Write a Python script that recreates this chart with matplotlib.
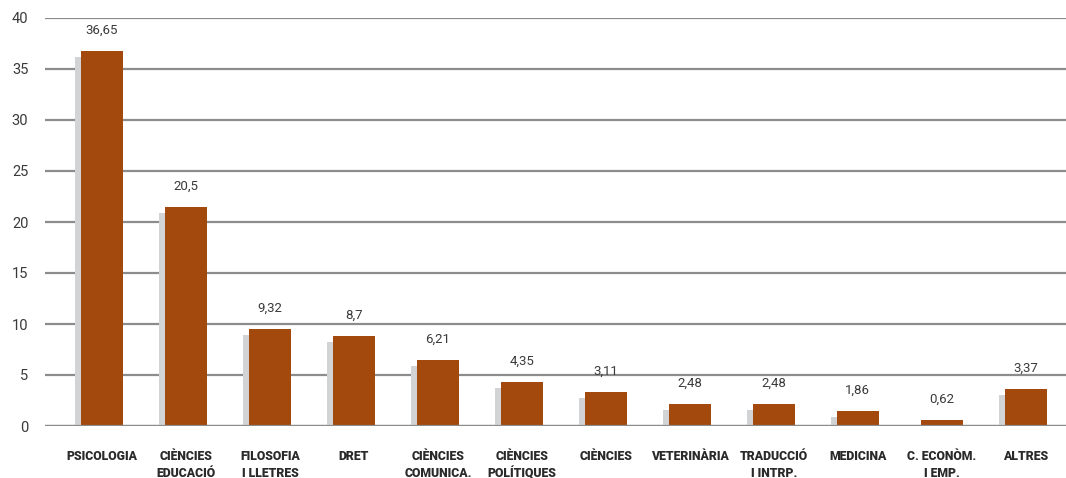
import matplotlib
matplotlib.use("Agg")
import matplotlib.pyplot as plt
import matplotlib.transforms as mtransforms

categories = ["PSICOLOGIA", "CIÈNCIES\nEDUCACIÓ", "FILOSOFIA\nI LLETRES", "DRET",
              "CIÈNCIES\nCOMUNICA.", "CIÈNCIES\nPOLÍTIQUES", "CIÈNCIES", "VETERINÀRIA",
              "TRADUCCIÓ\nI INTRP.", "MEDICINA", "C. ECONÒM.\nI EMP.", "ALTRES"]
# bar heights as drawn in the picture
values = [36.74, 21.44, 9.48, 8.79, 6.44, 4.28, 3.30, 2.13, 2.13, 1.44, 0.56, 3.60]
# value labels printed above the bars
value_labels = ["36,65", "20,5", "9,32", "8,7", "6,21", "4,35", "3,11", "2,48",
                "2,48", "1,86", "0,62", "3,37"]
yticks = [0, 5, 10, 15, 20, 25, 30, 35, 40]

plt.rcParams['font.family'] = ['Roboto', 'DejaVu Sans']

W, H = 1066, 478
fig = plt.figure(figsize=(W / 100, H / 100), dpi=100)
ax = fig.add_axes([45 / W, 52 / H, (W - 45) / W, 408 / H])

x = list(range(len(categories)))
brown = "#a3490d"
shadow_col = "#d2d3d5"

# grey shadow, offset left and down
shadow_tr = ax.transData + mtransforms.ScaledTranslation(-6 / 100, -6 / 100, fig.dpi_scale_trans)
ax.bar(x, values, width=0.5, color=shadow_col, transform=shadow_tr, zorder=2, clip_on=True)
bars = ax.bar(x, values, width=0.5, color=brown, zorder=3)

ax.set_ylim(0, 40)
ax.set_xlim(-0.68, 11.48)
ax.set_yticks(yticks)
ax.set_yticklabels([str(t) for t in yticks])
ax.yaxis.grid(True, color="#8c8c8c", linewidth=1.6, zorder=1)
ax.set_axisbelow(True)
for s in ax.spines.values():
    s.set_visible(False)
ax.tick_params(axis="y", length=0, pad=12, labelsize=10.5, labelcolor="#3a3a3a")
ax.tick_params(axis="x", length=0, pad=17)
ax.set_xticks(x)
ax.set_xticklabels(categories, fontsize=8.8, fontweight="black", color="#2a2a2a",
                   linespacing=1.4, va="top")

# zero line above shadow
ax.axhline(0, color="#8c8c8c", linewidth=1.6, zorder=4)

for xi, v, lab in zip(x, values, value_labels):
    ax.annotate(lab, (xi, v), xytext=(0, 15), textcoords="offset points",
                ha="center", va="center", fontsize=9.5, color="#3a3a3a")

fig.savefig("out.png", dpi=100)
